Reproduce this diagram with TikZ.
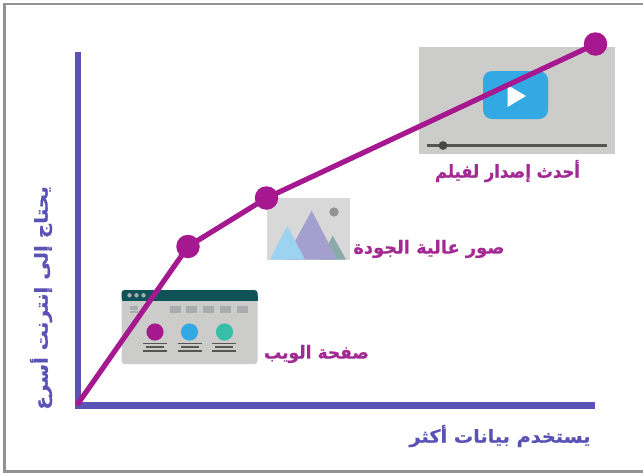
\documentclass[tikz,border=0pt]{standalone}
\usepackage{fontspec}
\setmainfont{Liberation Sans}
\newfontfamily\arabicfont[Script=Arabic,BoldFeatures={FakeBold=0.6}]{DejaVu Sans}
\TeXXeTstate=1
\definecolor{axisblue}{HTML}{5B52B5}
\definecolor{curve}{HTML}{A6188F}
\definecolor{labelmag}{HTML}{A32A92}
\definecolor{panel}{HTML}{CCCCCB}
\definecolor{panelb}{HTML}{D8D8D8}
\definecolor{bar}{HTML}{0F5257}
\definecolor{sky}{HTML}{33A9E3}
\definecolor{teal}{HTML}{38BDA8}
\definecolor{darkline}{HTML}{555555}
\definecolor{chip}{HTML}{A9ADAF}
\definecolor{mtgreen}{HTML}{8AAAAB}
\definecolor{mtpurple}{HTML}{A3A0CE}
\definecolor{mtblue}{HTML}{9BD3F1}
\tikzset{
  axisline/.style={draw=axisblue,line width=6.4pt},
  curveline/.style={draw=curve,line width=5.2pt},
  dot/.style={circle,fill=curve,inner sep=0pt,minimum size=23.5pt},
  lbl/.style={font=\arabicfont\bfseries\fontsize{18}{20}\selectfont,inner sep=0pt},
  txtline/.style={draw=darkline,line width=1.8pt},
}
\begin{document}
\begin{tikzpicture}[x=1pt,y=-1pt]
\useasboundingbox (0,0) rectangle (643,474);
\fill[white] (0,0) rectangle (643,474);
\draw[draw=gray!85,line width=2.4pt] (643,3.8) -- (4.6,3.8) -- (4.6,471.3) -- (643,471.3);

% video panel
\fill[panel] (419,47) rectangle (615,154);
\fill[sky,rounded corners=9pt] (483,71) rectangle (548,119);
\fill[white] (507.5,85) -- (526,96) -- (507.5,107) -- cycle;
\draw[darkline,line width=2.2pt] (427,145.5) -- (607,145.5);
\fill[darkline!85!black] (443,145.5) circle (4.4);

% image panel
\fill[panelb] (267,198) rectangle (349.5,259.5);
\fill[gray!85] (334,212) circle (4.7);
\fill[mtgreen] (320,259.5) -- (332.7,235.7) -- (346,259.5) -- cycle;
\fill[mtpurple] (285,259.5) -- (311.7,210.7) -- (337,259.5) -- cycle;
\fill[mtblue] (270,259.5) -- (287.3,226) -- (305,259.5) -- cycle;

% web panel
\fill[panel,rounded corners=3pt] (121.5,291) rectangle (257.5,364);
\fill[bar,rounded corners=3pt] (121.5,290) rectangle (257.5,300.5);
\fill[bar] (121.5,296) rectangle (257.5,300.5);
\foreach \cx in {129.5,136.5,143.5} \fill[chip] (\cx,295.3) circle (2.2);
\fill[chip] (130,306) rectangle (138,309.5);
\fill[chip] (130,311) rectangle (138,313);
\foreach \cx in {170,186,203,220,237} \fill[chip] (\cx,306) rectangle ++(11,7);
\fill[curve] (155,332) circle (8.6);
\fill[sky] (189.5,332) circle (8.6);
\fill[teal] (224.5,332) circle (8.6);
\foreach \cx in {155,190,224}{
  \draw[txtline] (\cx-12,343.5) -- (\cx+12,343.5);
  \draw[txtline] (\cx-9,347.2) -- (\cx+9,347.2);
  \draw[txtline] (\cx-12,351) -- (\cx+12,351);
}

% axes
\coordinate (top) at (77.7,52);
\coordinate (origin) at (77.7,405.5);
\coordinate (right) at (595.3,405.5);
\draw[axisline] (top) -- (origin) -- (right);

% curve
\coordinate (start) at (77,405);
\node[dot] (p1) at (188,246.5) {};
\node[dot] (p2) at (266.5,198) {};
\node[dot] (p3) at (595.5,44) {};
\draw[curveline] (start) -- (p1.center) -- (p2.center) -- (p3.center);

% labels
\node[lbl,text=labelmag,xscale=0.91] (t1) at (507.5,171) {\beginR أحدث إصدار لفيلم\endR};
\node[lbl,text=labelmag,xscale=0.99] (t2) at (429,249) {\beginR صور عالية الجودة\endR};
\node[lbl,text=labelmag,xscale=0.95] (t3) at (316.5,354) {\beginR صفحة الويب\endR};
\node[lbl,text=axisblue,xscale=1.07] (t4) at (500,436) {\beginR يستخدم بيانات أكثر\endR};
\node[lbl,text=axisblue,rotate=90,xscale=1.11] (t5) at (41,298) {\beginR يحتاج إلى إنترنت أسرع\endR};
\end{tikzpicture}
\end{document}
